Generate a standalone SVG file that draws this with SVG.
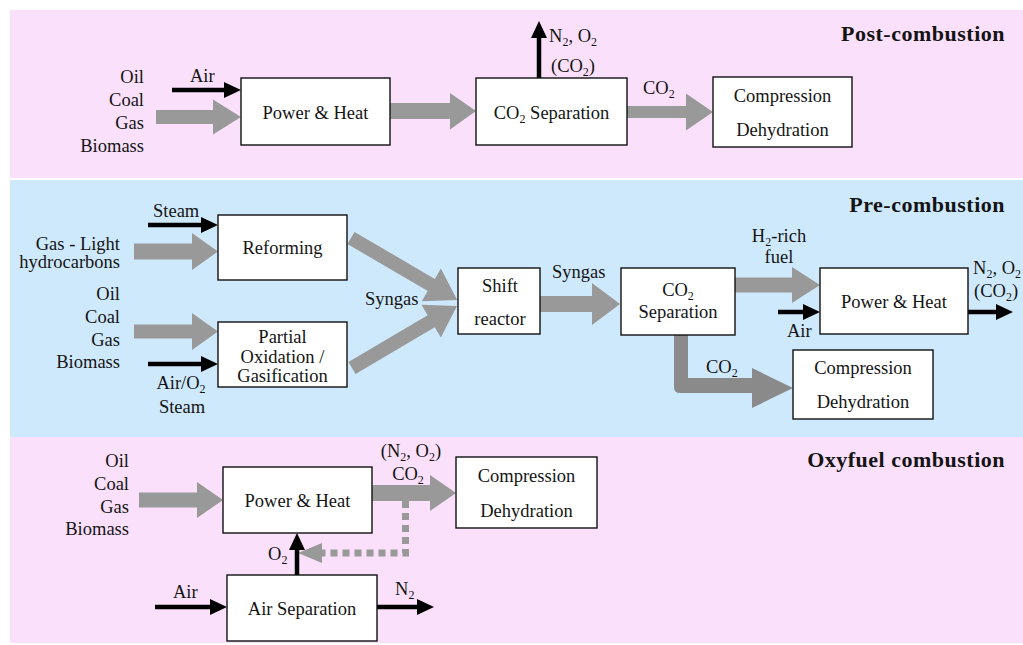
<svg xmlns="http://www.w3.org/2000/svg" width="1023" height="645" viewBox="0 0 1023 645">
<defs>
<style>
text{font-family:"Liberation Serif","Tinos","Times New Roman","Noto Serif","DejaVu Serif",serif;font-size:18.5px;fill:#141414}
.m{text-anchor:middle}
.e{text-anchor:end}
.t{font-weight:bold;font-size:22px;letter-spacing:0.5px;text-anchor:end}
.s{font-size:12px}
.box{fill:#fff;stroke:#111;stroke-width:1.4}
.g{fill:#999}
.gd{fill:#8a8a8a}
.k{stroke:#000;stroke-width:4.5;fill:none}
</style>
<marker id="ah" viewBox="0 0 17 16" refX="5" refY="8" markerWidth="17" markerHeight="16" markerUnits="userSpaceOnUse" orient="auto">
<path d="M0,0 L17,8 L0,16 Z" fill="#000"/>
</marker>
</defs>
<rect width="1023" height="645" fill="#fff"/>
<g id="bands">
<rect x="10" y="10" width="1013" height="168" fill="#fbe0fb"/>
<rect x="10" y="180" width="1013" height="257" fill="#cfe9fc"/>
<rect x="10" y="437" width="1013" height="206" fill="#fbe0fb"/>
</g>
<g id="connectors">
<path class="g" d="M156,110 L213,110 L213,99.5 L241,117 L213,134.5 L213,124 L156,124 Z"/>
<path class="g" d="M390,103 L450,103 L450,93 L476,111 L450,129.5 L450,119 L390,119 Z"/>
<path class="g" d="M627,106 L686,106 L686,93.5 L713,112 L686,130.5 L686,118 L627,118 Z"/>
<path class="g" d="M134,243.5 L192,243.5 L192,233 L218,251.5 L192,270 L192,259.5 L134,259.5 Z"/>
<path class="g" d="M134,324.5 L192,324.5 L192,313 L218,331.5 L192,350 L192,338.5 L134,338.5 Z"/>
<path class="g" transform="translate(351,238) rotate(30.3)" d="M0,-7 L93,-7 L93,-19 L123,0 L93,19 L93,7 L0,7 Z"/>
<path class="g" transform="translate(352,368) rotate(-30.6)" d="M0,-7 L92,-7 L92,-19 L122,0 L92,19 L92,7 L0,7 Z"/>
<path class="g" d="M540,296 L592,296 L592,283 L620,304 L592,325 L592,312 L540,312 Z"/>
<path class="g" d="M735,277.5 L792,277.5 L792,267 L820,285 L792,303 L792,292.5 L735,292.5 Z"/>
<path class="gd" d="M674,335 L674,387 Q674,393 680,393 L752,393 L752,408 L793,388 L752,368 L752,378 L688,378 L688,335 Z"/>
<path class="g" d="M139,492.5 L197,492.5 L197,482 L223,500 L197,518 L197,507.5 L139,507.5 Z"/>
<path class="g" d="M372,485 L430,485 L430,475 L456,493 L430,511 L430,501 L372,501 Z"/>
<polyline points="405.5,501 405.5,553 322,553" fill="none" stroke="#999" stroke-width="7" stroke-dasharray="7 5"/>
<path class="g" d="M322,543 L298,553 L322,563 Z"/>
<line class="k" x1="172" y1="90" x2="229" y2="90" marker-end="url(#ah)"/>
<line class="k" x1="539" y1="78" x2="539" y2="33" marker-end="url(#ah)"/>
<line class="k" x1="148" y1="225" x2="206" y2="225" marker-end="url(#ah)"/>
<line class="k" x1="148" y1="364" x2="206" y2="364" marker-end="url(#ah)"/>
<line class="k" x1="778" y1="312" x2="808" y2="312" marker-end="url(#ah)"/>
<line class="k" x1="968" y1="312" x2="1001" y2="312" marker-end="url(#ah)"/>
<line class="k" x1="297" y1="575" x2="297" y2="545" marker-end="url(#ah)"/>
<line class="k" x1="155" y1="607" x2="215" y2="607" marker-end="url(#ah)"/>
<line class="k" x1="377" y1="607" x2="422" y2="607" marker-end="url(#ah)"/>
</g>
<g id="post-power"><rect class="box" x="241" y="78" width="149" height="67"/><text class="m" x="315.5" y="119">Power &amp; Heat</text></g>
<g id="post-sep"><rect class="box" x="476" y="78" width="151" height="67"/><text class="m" x="551.5" y="119">CO<tspan class="s" dy="4">2</tspan><tspan dy="-4"> Separation</tspan></text></g>
<g id="post-comp"><rect class="box" x="713" y="77" width="139" height="70"/><text class="m" x="782.5" y="102">Compression</text><text class="m" x="782.5" y="136">Dehydration</text></g>
<g id="pre-reform"><rect class="box" x="218" y="215" width="129" height="65"/><text class="m" x="282.5" y="254">Reforming</text></g>
<g id="pre-pox"><rect class="box" x="218" y="322" width="129" height="65"/><text class="m" x="282.5" y="343">Partial</text><text class="m" x="282.5" y="363">Oxidation /</text><text class="m" x="282.5" y="382">Gasification</text></g>
<g id="pre-shift"><rect class="box" x="458" y="268" width="82" height="66"/><text class="m" x="500" y="292">Shift</text><text class="m" x="500" y="325">reactor</text></g>
<g id="pre-sep"><rect class="box" x="621" y="268" width="114" height="67"/><text class="m" x="678" y="296">CO<tspan class="s" dy="4">2</tspan></text><text class="m" x="678" y="318">Separation</text></g>
<g id="pre-power"><rect class="box" x="820" y="268" width="148" height="66"/><text class="m" x="894" y="308">Power &amp; Heat</text></g>
<g id="pre-comp"><rect class="box" x="793" y="350" width="140" height="69"/><text class="m" x="863" y="374">Compression</text><text class="m" x="863" y="408">Dehydration</text></g>
<g id="oxy-power"><rect class="box" x="223" y="467" width="149" height="66"/><text class="m" x="297.5" y="507">Power &amp; Heat</text></g>
<g id="oxy-comp"><rect class="box" x="456" y="457" width="141" height="71"/><text class="m" x="526.5" y="482">Compression</text><text class="m" x="526.5" y="517">Dehydration</text></g>
<g id="oxy-asu"><rect class="box" x="227" y="575" width="150" height="66"/><text class="m" x="302" y="615">Air Separation</text></g>
<g id="labels">
<text class="t" x="1005" y="41">Post-combustion</text>
<text class="t" x="1005" y="212">Pre-combustion</text>
<text class="t" x="1005" y="467">Oxyfuel combustion</text>
<text class="e" x="144" y="83">Oil</text>
<text class="e" x="144" y="106">Coal</text>
<text class="e" x="144" y="129">Gas</text>
<text class="e" x="144" y="152">Biomass</text>
<text x="190" y="82">Air</text>
<text class="m" x="573" y="42">N<tspan class="s" dy="4">2</tspan><tspan dy="-4">, O</tspan><tspan class="s" dy="4">2</tspan></text>
<text class="m" x="573" y="72">(CO<tspan class="s" dy="4">2</tspan><tspan dy="-4">)</tspan></text>
<text x="643" y="94">CO<tspan class="s" dy="4">2</tspan></text>
<text x="153" y="217">Steam</text>
<text class="e" x="120" y="250">Gas - Light</text>
<text class="e" x="120" y="268">hydrocarbons</text>
<text class="e" x="120" y="300">Oil</text>
<text class="e" x="120" y="323">Coal</text>
<text class="e" x="120" y="346">Gas</text>
<text class="e" x="120" y="368">Biomass</text>
<text class="m" x="181" y="389">Air/O<tspan class="s" dy="4">2</tspan></text>
<text class="m" x="182" y="413">Steam</text>
<text x="365" y="305">Syngas</text>
<text x="552" y="278">Syngas</text>
<text class="m" x="779" y="242">H<tspan class="s" dy="4">2</tspan><tspan dy="-4">-rich</tspan></text>
<text class="m" x="779" y="263">fuel</text>
<text x="787" y="337">Air</text>
<text x="973" y="274">N<tspan class="s" dy="4">2</tspan><tspan dy="-4">, O</tspan><tspan class="s" dy="4">2</tspan></text>
<text x="974" y="297">(CO<tspan class="s" dy="4">2</tspan><tspan dy="-4">)</tspan></text>
<text x="706" y="373">CO<tspan class="s" dy="4">2</tspan></text>
<text class="e" x="129" y="467">Oil</text>
<text class="e" x="129" y="490">Coal</text>
<text class="e" x="129" y="513">Gas</text>
<text class="e" x="129" y="535">Biomass</text>
<text class="m" x="411" y="457">(N<tspan class="s" dy="4">2</tspan><tspan dy="-4">, O</tspan><tspan class="s" dy="4">2</tspan><tspan dy="-4">)</tspan></text>
<text class="m" x="408" y="480">CO<tspan class="s" dy="4">2</tspan></text>
<text x="268" y="560">O<tspan class="s" dy="4">2</tspan></text>
<text x="173" y="598">Air</text>
<text x="395" y="595">N<tspan class="s" dy="4">2</tspan></text>
</g>
</svg>
